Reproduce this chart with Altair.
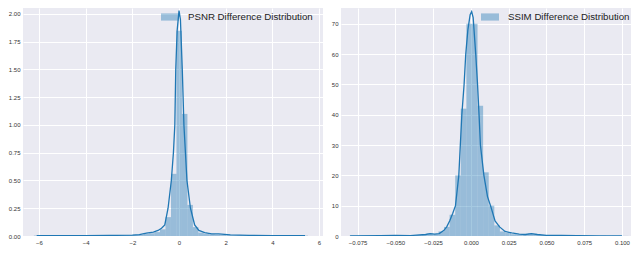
import altair as alt
import pandas as pd

# ---------------- data ----------------
psnr_label = "PSNR Difference Distribution"
psnr_bin_start = -6.22
psnr_bin_width = 0.235
psnr_hist = [0.004, 0, 0.003, 0, 0.003, 0.004, 0.003, 0.004, 0.005, 0.004,
             0.005, 0.006, 0.004, 0.006, 0.005, 0.007, 0.006, 0.008, 0.010, 0.012,
             0.020, 0.025, 0.035, 0.060, 0.17, 0.56, 1.85, 1.10, 0.28, 0.08,
             0.030, 0.020, 0.015, 0.012, 0.008, 0.006, 0.005, 0.006, 0.004, 0.005,
             0.004, 0.003, 0.004, 0.003, 0.004, 0.003, 0.002, 0.003, 0.002, 0.003]
psnr_kde_x = [-6.1, -5.0, -4.0, -3.0, -2.0, -1.7, -1.4, -1.1, -0.9, -0.75, -0.61, -0.47,
              -0.33, -0.24, -0.18, -0.14, -0.08, 0.0, 0.06, 0.14, 0.21, 0.34, 0.49, 0.67,
              0.85, 1.1, 1.4, 1.7, 2.2, 3.0, 4.0, 5.4]
psnr_kde_y = [0.003, 0.004, 0.004, 0.005, 0.008, 0.012, 0.025, 0.035, 0.05, 0.07, 0.10, 0.25,
              0.50, 0.75, 1.0, 1.5, 1.85, 2.03, 1.95, 1.5, 1.0, 0.5, 0.25, 0.10,
              0.05, 0.03, 0.02, 0.02, 0.01, 0.006, 0.004, 0.003]
psnr_x_ticks = [-6, -4, -2, 0, 2, 4, 6]
psnr_y_ticks = [0.0, 0.25, 0.5, 0.75, 1.0, 1.25, 1.5, 1.75, 2.0]

ssim_label = "SSIM Difference Distribution"
ssim_bin_start = -0.0807
ssim_bin_width = 0.0037
ssim_hist = [0.05, 0, 0.05, 0.03, 0.05, 0.1, 0.1, 0.15, 0.25, 0.15,
             0.1, 0.2, 0.3, 0.5, 0.8, 0.6, 1.5, 3, 7, 20,
             42, 70, 70, 43, 21, 10, 3.5, 1.5, 1.0, 0.6,
             0.5, 0.6, 0.8, 0.6, 0.3, 0.2, 0.15, 0.2, 0.25, 0.1,
             0.1, 0.05, 0.1, 0.05, 0.03, 0.05, 0, 0.03, 0.05, 0.03]
ssim_kde_x = [-0.08, -0.06, -0.05, -0.04, -0.03, -0.027, -0.024, -0.021, -0.018, -0.016,
              -0.014, -0.012, -0.0102, -0.008, -0.007, -0.006, -0.0045, -0.0034, -0.002,
              -0.0005, 0.0005, 0.0015, 0.0032, 0.0044, 0.0054, 0.0063, 0.0086, 0.011,
              0.013, 0.016, 0.019, 0.0226, 0.027, 0.032, 0.036, 0.04, 0.044, 0.05,
              0.06, 0.07, 0.085, 0.1]
ssim_kde_y = [0.05, 0.1, 0.2, 0.15, 0.5, 0.8, 0.6, 0.8, 1.8, 3,
              5, 7.5, 10, 20, 30, 40, 50, 60, 68,
              73, 74, 72, 60, 50, 40, 30, 20, 13,
              10, 5, 3, 1.5, 1, 0.6, 0.5, 0.8, 0.5, 0.2,
              0.2, 0.1, 0.05, 0.03]
ssim_x_ticks = [-0.075, -0.05, -0.025, 0.0, 0.025, 0.05, 0.075, 0.1]
ssim_y_ticks = [0, 10, 20, 30, 40, 50, 60, 70]

BLUE = "#1f77b4"
FONT = "Liberation Sans"


def hist_frame(start, width, heights, label):
    return pd.DataFrame({
        "x0": [start + i * width for i in range(len(heights))],
        "x1": [start + (i + 1) * width for i in range(len(heights))],
        "h": heights,
        "series": label,
    })


def panel(hist_df, kde_df, label, xdom, ydom, xticks, yticks, xfmt, yfmt, pw, legx):
    xscale = alt.Scale(domain=xdom, nice=False, zero=False)
    yscale = alt.Scale(domain=ydom, nice=False, zero=False)
    xaxis = alt.Axis(values=xticks, format=xfmt, title=None)
    yaxis = alt.Axis(values=yticks, format=yfmt, title=None)
    bars = alt.Chart(hist_df).mark_rect(opacity=0.4, clip=True).encode(
        x=alt.X("x0:Q", scale=xscale, axis=xaxis),
        x2="x1:Q",
        y=alt.Y("h:Q", scale=yscale, axis=yaxis),
        y2=alt.datum(0),
        color=alt.Color(
            "series:N",
            scale=alt.Scale(range=[BLUE]),
            legend=alt.Legend(
                title=None, orient="none", legendX=legx, legendY=0, padding=0,
                symbolType="M-1,-0.4H1V0.4H-1Z", symbolSize=324,
                symbolOpacity=0.4, symbolStrokeWidth=0,
                labelFont=FONT, labelFontSize=9.7, labelColor="#222222",
                labelOffset=9,
            ),
        ),
    )
    line = alt.Chart(kde_df).mark_line(color=BLUE, strokeWidth=1.3, clip=True).encode(
        x=alt.X("x:Q", scale=xscale, axis=xaxis),
        y=alt.Y("y:Q", scale=yscale, axis=yaxis),
    )
    return alt.layer(bars, line).properties(width=pw, height=228)


psnr_chart = panel(
    hist_frame(psnr_bin_start, psnr_bin_width, psnr_hist, psnr_label),
    pd.DataFrame({"x": psnr_kde_x, "y": psnr_kde_y}),
    psnr_label, [-6.686, 6.17], [0, 2.054], psnr_x_ticks, psnr_y_ticks, "d", ".2f", 300, 138,
)
ssim_chart = panel(
    hist_frame(ssim_bin_start, ssim_bin_width, ssim_hist, ssim_label),
    pd.DataFrame({"x": ssim_kde_x, "y": ssim_kde_y}),
    ssim_label, [-0.086, 0.106], [0, 75.2], ssim_x_ticks, ssim_y_ticks, ".3f", "d", 290, 140,
)

chart = alt.hconcat(psnr_chart, ssim_chart, spacing=8).resolve_scale(
    color="independent"
).resolve_legend(color="independent").configure_view(
    fill="#EAEAF2", strokeWidth=0
).configure_axis(
    domain=False, ticks=False, grid=True, gridColor="#ffffff", gridWidth=1,
    labelFont=FONT, labelFontSize=6, labelColor="#333333", labelPadding=3,
).properties(background="#ffffff", padding=0)

chart.save("out.html", embed_options={"renderer": "svg", "actions": False})
